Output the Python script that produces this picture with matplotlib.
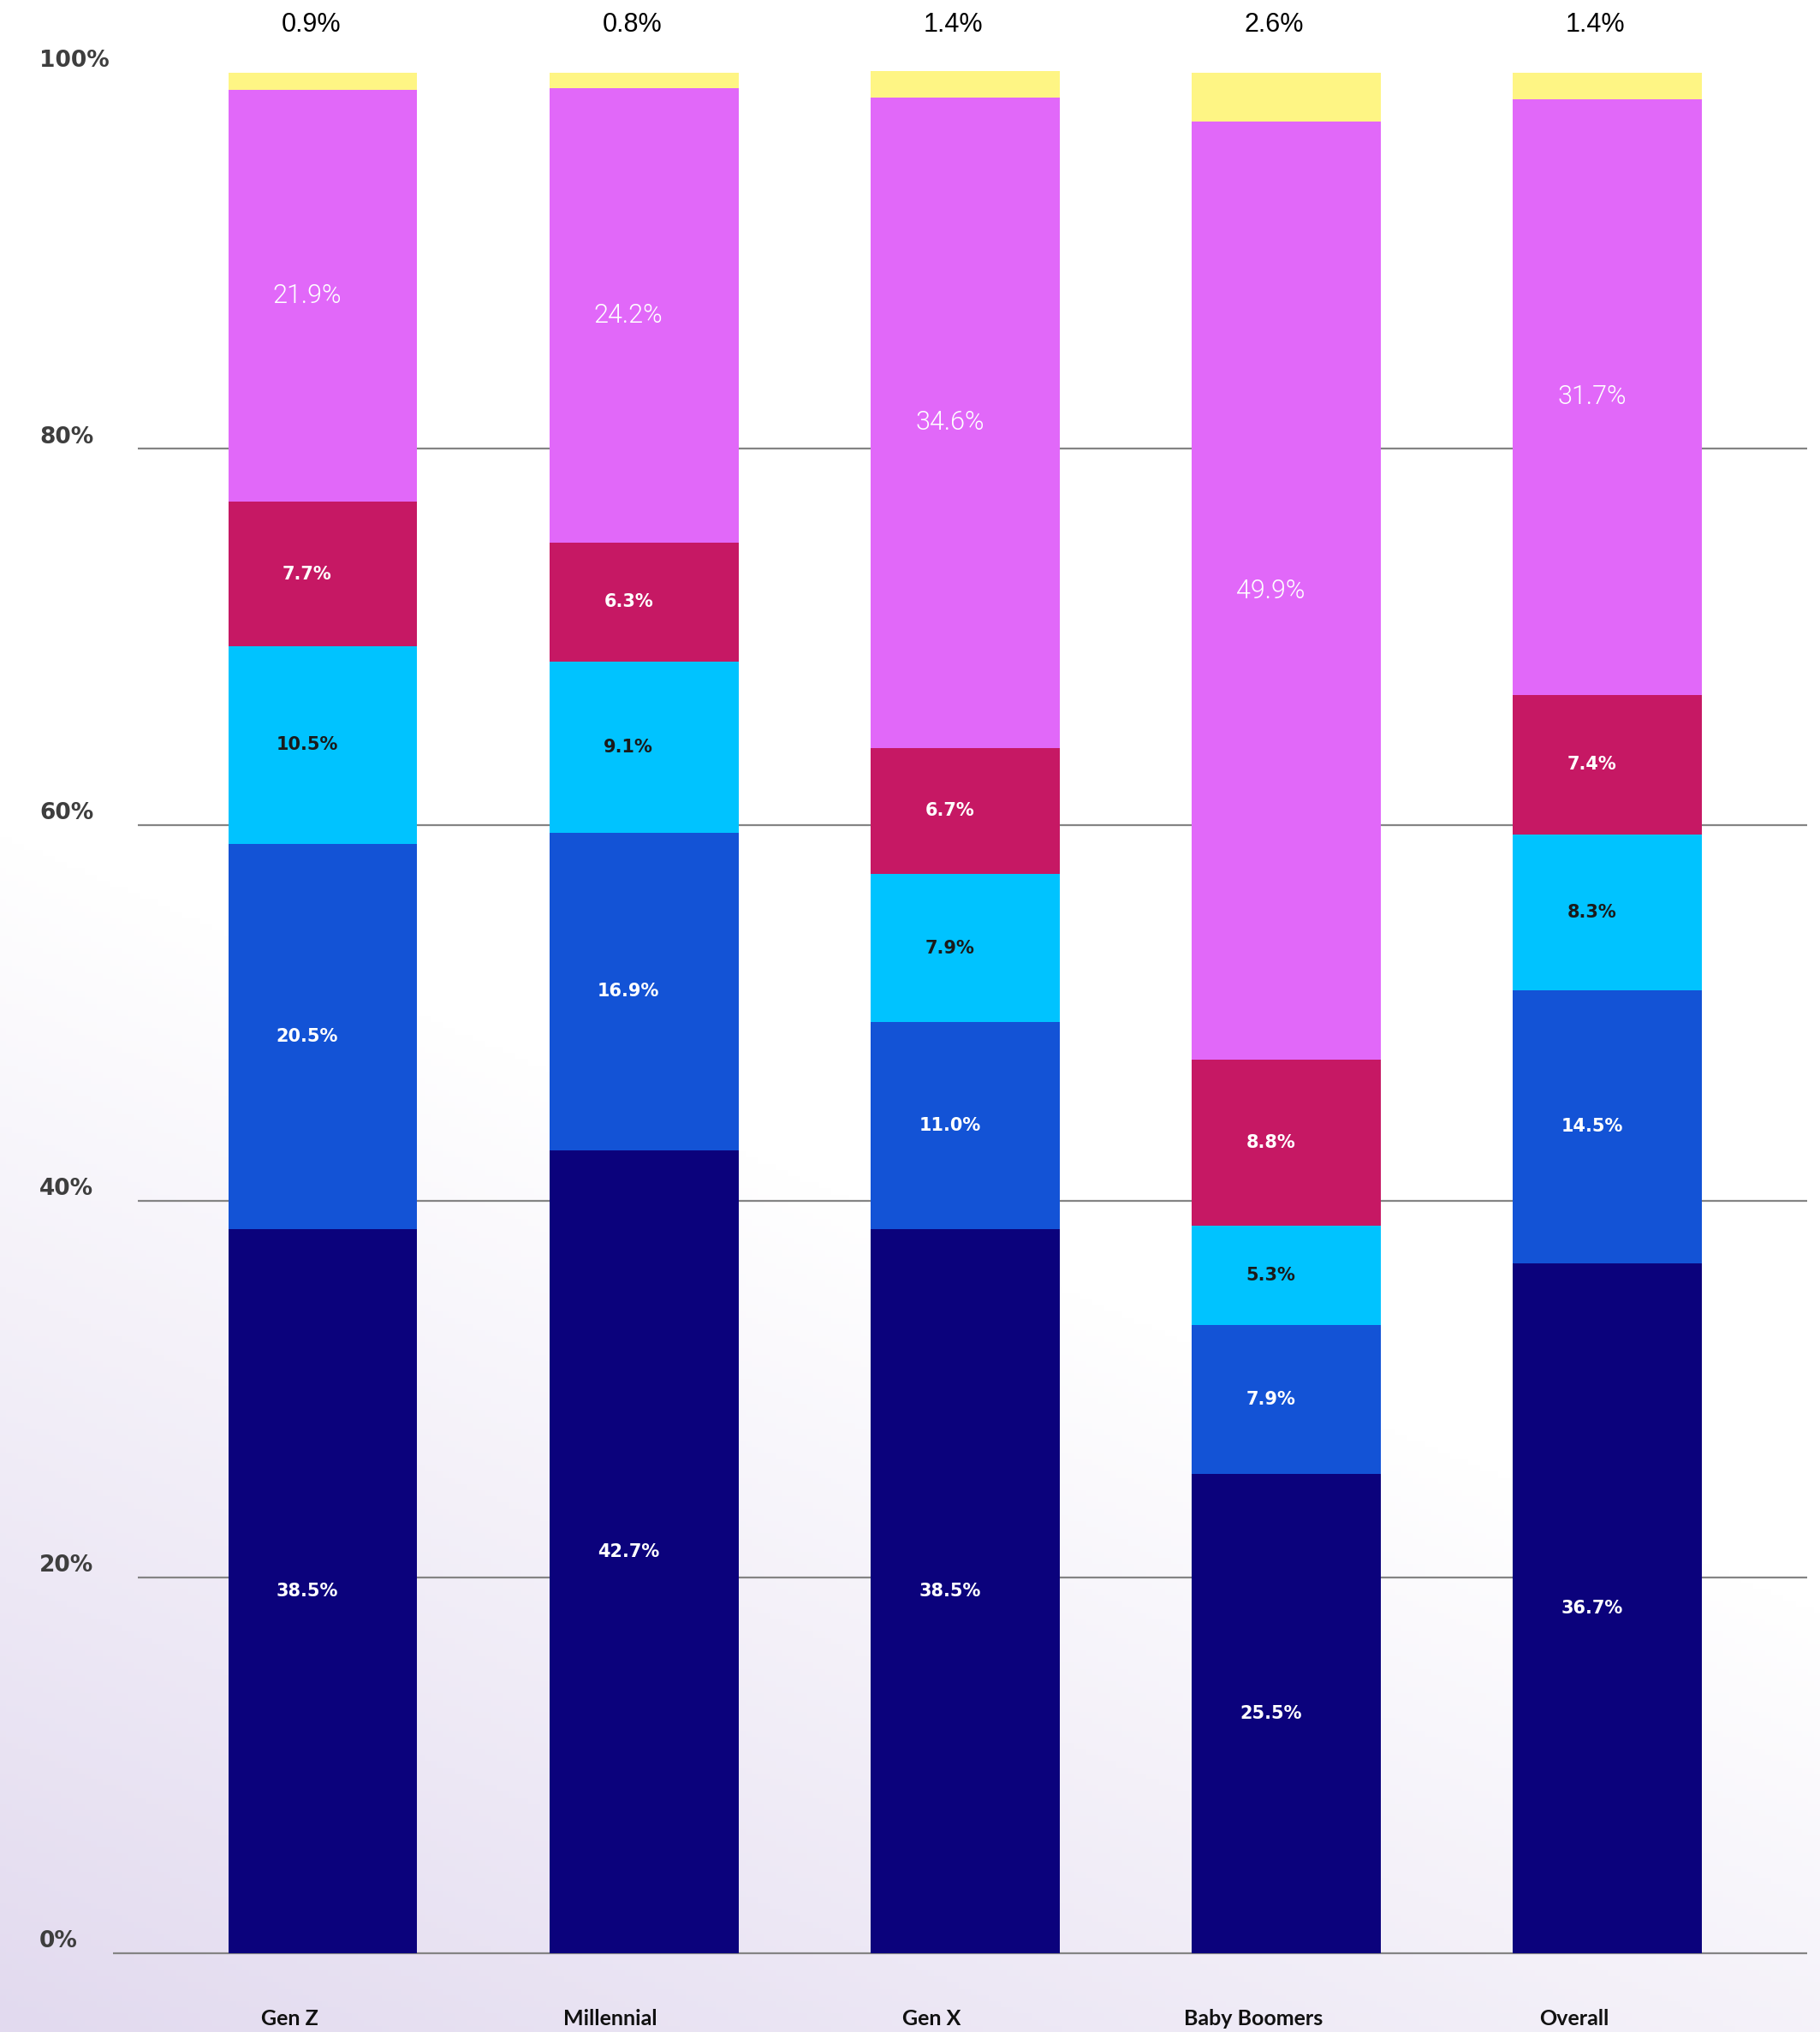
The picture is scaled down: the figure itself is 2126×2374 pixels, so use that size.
import matplotlib.pyplot as plt
import numpy as np
from matplotlib.colors import to_rgb

# data (percent of each generation), stacked bottom -> top
groups = ["Gen Z", "Millennial", "Gen X", "Baby Boomers", "Overall"]
seg_navy = [38.5, 42.7, 38.5, 25.5, 36.7]
seg_blue = [20.5, 16.9, 11.0, 7.9, 14.5]
seg_cyan = [10.5, 9.1, 7.9, 5.3, 8.3]
seg_crimson = [7.7, 6.3, 6.7, 8.8, 7.4]
seg_violet = [21.9, 24.2, 34.6, 49.9, 31.7]
seg_yellow = [0.9, 0.8, 1.4, 2.6, 1.4]
y_ticks = [0, 20, 40, 60, 80, 100]

segments = [seg_navy, seg_blue, seg_cyan, seg_crimson, seg_violet, seg_yellow]
colors = ["#0b027c", "#1353d6", "#00c3ff", "#c61864", "#e168f9", "#fef584"]
# label style per segment: (color, font, weight, size)
lab_style = [
    ("white", "DejaVu Sans", "bold", 15),
    ("white", "DejaVu Sans", "bold", 15),
    ("#1a1a1a", "DejaVu Sans", "bold", 15),
    ("white", "DejaVu Sans", "bold", 15),
    ("white", "Roboto", 300, 22),
]

W, H, DPI = 2126, 2374, 100
fig = plt.figure(figsize=(W / DPI, H / DPI), dpi=DPI)

# soft lavender gradient in the lower left
bg = fig.add_axes([0, 0, 1, 1], zorder=-10)
u = np.linspace(0, 1, 300)
v = np.linspace(0, 1, 330)
U, V = np.meshgrid(u, v)
t = np.clip(1 - V * 1.7 - U * 0.65, 0, 1)[..., None]
white = np.array([1.0, 1.0, 1.0])
lav = np.array(to_rgb("#e2daef"))
img = white * (1 - t) + lav * t
bg.imshow(img, origin="lower", extent=[0, 1, 0, 1], aspect="auto")
bg.axis("off")

ax = fig.add_axes([0, 0, 1, 1])
ax.patch.set_alpha(0)
# map bar centres and the 0-100 scale onto pixel layout
x0, step = 377, 375.2
ax.set_xlim(-x0 / step, (W - x0) / step)
y_bot, y_scale = 92, 21.97
ax.set_ylim(-y_bot / y_scale, (H - y_bot) / y_scale)
ax.axis("off")

px = 1 / step  # one pixel in x data units
for v_ in y_ticks[:-1]:
    start = 132 if v_ == 0 else 161
    ax.hlines(v_, (start - x0) * px, (2111 - x0) * px, color="#848484", lw=1.6, zorder=1)
for v_ in y_ticks:
    ax.annotate(f"{v_}%", xy=((46 - x0) * px, v_), xytext=(0, 10), textcoords="offset points",
                ha="left", va="center", fontsize=19, fontweight="bold", family="DejaVu Sans", color="#3e3e3e")

pos = np.arange(len(groups))
bottom = np.zeros(len(groups))
for k, seg in enumerate(segments):
    seg = np.array(seg)
    ax.bar(pos, seg, bottom=bottom, width=0.588, color=colors[k], zorder=2)
    if k < len(lab_style):
        col, fam, wt, fs = lab_style[k]
        for i in range(len(groups)):
            ax.annotate(f"{seg[i]:.1f}%", xy=(pos[i], bottom[i] + seg[i] / 2), xytext=(-13, 0),
                        textcoords="offset points", ha="center", va="center",
                        color=col, family=fam, fontweight=wt, fontsize=fs, zorder=3)
    bottom += seg

# yellow values shown above the bars
for i in range(len(groups)):
    ax.annotate(f"{seg_yellow[i]:.1f}%", xy=(pos[i], 100), xytext=(-10, 40), textcoords="offset points",
                ha="center", va="center", fontsize=22, family="Liberation Sans", color="black")

for i, g in enumerate(groups):
    ax.annotate(g, xy=(pos[i], 0), xytext=(-28, -55), textcoords="offset points",
                ha="center", va="center", fontsize=18, fontweight="bold", family="Lato", color="#111111")

fig.savefig("out.png", dpi=DPI)
